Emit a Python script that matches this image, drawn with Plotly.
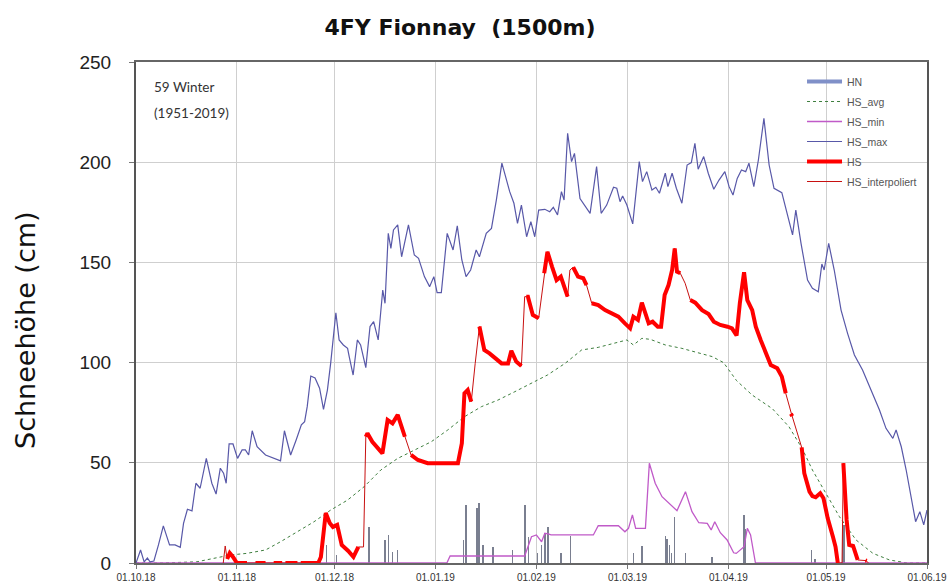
import pandas as pd
import plotly.graph_objects as go

START = pd.Timestamp("2018-10-01")

# ---- Snow depth data, winter 2018/19 (days counted from 01.10.2018) ----
# HS_max: maximum snow depth of the reference winters
max_days = [0, 1.4, 2.5, 3.5, 4.3, 5.5, 6.9, 8.4, 10.3, 12, 13.6, 14.6, 15.8, 17.2, 18.4, 19.7,
            21.6, 23.3, 24.6, 25.9, 26.9, 27.7, 28.6, 29.8, 31.2, 32.6, 33.6, 34.6, 35.7, 37.2,
            39.8, 41.8, 44.4, 45.6, 47.5, 49.2, 50.8, 51.8, 52.6, 53.7, 55, 56.4, 57.6, 58.8,
            59.8, 61.4, 62.4, 63.7, 65, 65.5, 66.7, 68, 69, 70.6, 71.9, 73, 74.4, 75.8, 76.5,
            77.5, 78.3, 79.1, 80.4, 81.6, 83.7, 85.5, 86.8, 88.6, 90.2, 91.5, 92.5, 93.8, 95.6,
            97.4, 98.7, 100.1, 101.4, 102.8, 104.5, 105.5, 107.6, 109.2, 110.7, 112.4, 114.8,
            116.1, 117.2, 118.4, 120, 121.3, 122.5, 123.7, 125.6, 127.1, 128.2, 129.5, 130.7,
            131.5, 132.6, 133.8, 134.7, 136.4, 137.9, 139.5, 141.5, 142.9, 144.6, 146.7, 147.7,
            148.7, 149.5, 150.8, 152.6, 154.6, 155.6, 156.9, 158.5, 159.7, 160.8, 162.6, 163.4,
            164.7, 166, 167.7, 169.3, 170.6, 171.7, 172.7, 174.4, 175.8, 177.5, 179.1, 180.9,
            182.2, 183.4, 184.7, 186, 187.3, 188.3, 189.8, 191.2, 192.9, 194.5, 196, 198.4,
            200.1, 201.7, 202.7, 204.3, 206.3, 207.8, 209.6, 210.7, 211.4, 212.8, 214.5, 216.6,
            218.6, 220.7, 223.2, 225.8, 228.4, 230.4, 232.5, 233.5, 235.1, 236.6, 238.2, 239.5,
            240.8, 242, 243]
max_vals = [0, 6.5, 0.6, 2.5, 0.6, 1, 9, 18.5, 9, 9, 7.8, 19.8, 26.8, 26, 39.8, 37.3,
            52.2, 39.8, 34.4, 47.3, 44.8, 39.8, 59.4, 59.4, 52.2, 56.4, 56.4, 53.9, 66, 58,
            53.9, 52.7, 51, 66, 53.9, 61.4, 68.9, 70.5, 78, 93.3, 92.3, 87.2, 76.7, 86.3,
            99.6, 124.9, 111.3, 108.8, 107.1, 103, 93.8, 111.3, 108.8, 97.5, 118, 120.4, 111.3, 136.2, 129.6,
            164.5, 157, 166.2, 168.7, 152.8, 168.7, 153.7, 152, 142.9, 137.9, 142.9, 134.9, 134.9, 164.5,
            156.2, 168.2, 151.2, 142.9, 146.2, 156.2, 152.8, 164.5, 167, 181.1, 199.5, 185.3,
            179.5, 169.5, 178.6, 162.8, 170.3, 162.8, 176.1, 176.5, 175.3, 177.5, 173.7, 185.3,
            181.1, 214.4, 200.3, 204.4, 181.9, 178.6, 174.5, 197.8, 174.5, 178.6, 187.5, 187,
            180.3, 183.1, 178.6, 169.2, 200.3, 190.3, 195.3, 186.1, 187.5, 184.5, 194.5, 187.8,
            194.5, 187, 179.5, 198.6, 199.8, 209.4, 196.5, 202.8, 194.5, 186.5, 191.1, 195.3,
            187.8, 183.6, 191.9, 196.1, 195.3, 199.5, 187.8, 201.1, 221.9, 198.6, 187, 184.8,
            173.7, 163.7, 176.1, 159.5, 141.2, 137.1, 135.4, 149.2, 146.2, 159.5, 146.2, 126.2,
            114.6, 103.8, 96.3, 86.3, 76.3, 67.2, 62.2, 66.4, 58, 46.4, 31.4, 20.6,
            25.6, 19, 26.4]

# HS_avg: mean snow depth 1951-2019
avg_days = [0, 8, 18.7, 24, 29, 34, 39.8, 44.4, 49.6, 54.7, 59.8, 62.5, 65, 70.1, 75.2, 80.4,
            85.5, 90.7, 95.8, 100.9, 106.1, 111.2, 116.4, 121.5, 126.4, 131.8, 136.9, 142,
            147.2, 150.8, 152.8, 155.4, 158, 162.6, 167.7, 172.9, 177, 180.5, 184.5, 189.3,
            195.5, 200.6, 204.7, 207.8, 212, 216.1, 221.2, 226.4, 231.5, 237, 243]
avg_vals = [0, 0, 0.6, 2.3, 4, 4.8, 6.5, 10.6, 15.6, 20.6, 26.4, 28.9, 31.4, 38.1, 46.4, 52.2,
            56.4, 60.5, 66.4, 73, 78, 81.3, 85.5, 89.7, 93.8, 99.6, 106.3, 107.6,
            109.6, 111.3, 108.8, 112.1, 111.6, 108.8, 107.1, 104.6, 103, 100, 91, 83.8,
            77, 68, 57, 46.4, 34.8, 23.1, 11.5, 4.8, 1.5, 0, 0]

# HS_min: minimum snow depth of the reference winters
min_days = [0, 95.5, 96.5, 119.4, 121.5, 123, 124.6, 125.6, 126.6, 127.5, 140.5, 142, 148.2,
            150.2, 151.3, 152.5, 153.5, 156.5, 157.7, 159.5, 161.6, 163.7, 166.2, 168.8, 170.8,
            172.9, 175.5, 176.7, 177.8, 179.5, 181.6, 183.6, 184.4, 186.8, 187.8, 188.8, 190.3, 243]
min_vals = [0, 0, 3.5, 3.5, 13.1, 14, 10.6, 14.8, 14.5, 14, 14, 18.6, 18.6,
            15.6, 17.3, 24, 17.3, 17.3, 49.8, 39.8, 33.1, 29.8, 26.1, 35.6, 25.6,
            20.1, 19.8, 16.5, 20.6, 15.1, 11.5, 5.1, 4.8, 8.1, 17.3, 14, 0, 0]

# HS: measured snow depth 2018/19, None marks days without measurement
hs_days = [28, 28.8, 29.8, 31, 34.1, None,
           36.7, 39.8, None,
           42.3, 44.9, None,
           45.9, 49.6, None,
           50.6, 56, 56.8, 58.3, 59.5, 60.5, 61.8, 63.2, 65.2, 66.8, 68.3, None,
           70.6, 71.1, 72.6, 74.2, 75.7, 77.3, 78.8, 80.4, 81.4, 82.6, None,
           84.5, 86.6, 89.6, 93.7, 98.9, 100.1, 100.9, 101.9, 103, None,
           105.5, 107, 108.6, 110.7, 112.3, 114.3, 115.3, 116.8, 118.4, None,
           119.9, 120.4, 121.9, 123.7, None,
           125.4, 126.4, 127.8, 129.2, 130.5, 131.8, 132.6, None,
           134.3, 135.8, 137.4, 138.4, None,
           140, 142, 144.1, 146.1, 148.2, 150.2, 151.8, 152.8, 154.2, 155.4, 156.4, 157.5,
           158.7, 160.3, 161.3, 162.4, 163.6, 164.7, 165.5, 166.2, 167.2, None,
           170.3, 171.8, 173.9, 175.9, 177.5, 179.5, 181.7, 183.1, 184.5, 185.5, 186.8, 187.8,
           189.3, 190.4, 191.9, 193.4, 195, 197, 198.4, 199.6, None,
           201.2, 201.6, None,
           204.5, 205.3, 206.9, 207.8, 208.8, 210.2, 211.2, 212.5, 214.1, 214.9, 215.6, None,
           217.3, 218.3, 219.1, 220.3, 221.7, None,
           224.1, 224.5]
hs_vals = [2, 5, 3, 0, 0, None,
           0, 0, None,
           0, 0, None,
           0, 0, None,
           0, 0, 3, 25, 20, 18, 19, 9, 6, 3, 8, None,
           63, 64.7, 60.5, 57.2, 54.7, 71.4, 69.7, 73.9, 68.9, 63, None,
           53.9, 51.4, 49.8, 49.8, 49.8, 59.7, 84.7, 86.3, 80.5, None,
           118, 106.3, 104.6, 102.1, 99.6, 99.6, 105.9, 100.5, 98.3, None,
           132.9, 132.9, 123.8, 122.1, None,
           144.6, 155.3, 147.9, 141.2, 142.9, 136.2, 132.9, None,
           147.6, 142.9, 142.1, 138.7, None,
           129.6, 128.7, 126.2, 124.6, 122.9, 119.6, 117.1, 122.9, 121.3, 129.9, 124.6, 119.6,
           120.4, 117.9, 117.9, 133.7, 138.7, 146.2, 157, 145.4, 144.6, None,
           131.2, 129.9, 126.2, 124.2, 120.4, 118.8, 117.9, 117.1, 113.5, 129.6, 145.1, 131.2,
           126.2, 117.9, 111.3, 104.6, 98.8, 97.2, 93, 84.7, None,
           74.5, 73.3, None,
           57.7, 44.8, 35.6, 33.4, 32.8, 34.8, 32.3, 22.3, 13.1, 8.1, 0, None,
           49.8, 21.5, 9, 8.5, 1.5, None,
           1.3, 1.1]

# HS_interpoliert: continuous snow depth including interpolated days
hsi_days = [26.8, 27.4, 28, 28.8, 29.8, 31, 56, 56.8, 58.3, 59.5, 60.5, 61.8, 63.2, 65.2, 66.8,
            68.3, 69.9, 70.6, 71.1, 72.6, 74.2, 75.7, 77.3, 78.8, 80.4, 81.4, 82.6, 84.5, 86.6,
            89.6, 93.7, 98.9, 100.1, 100.9, 101.9, 103, 104.2, 105.5, 107, 108.6, 110.7, 112.3,
            114.3, 115.3, 116.8, 118.4, 119.4, 120.4, 121.9, 123.7, 125.4, 126.4, 127.8, 129.2,
            130.5, 131.8, 132.6, 133.3, 134.3, 135.8, 137.4, 138.4, 140, 142, 144.1, 146.1,
            148.2, 150.2, 151.8, 152.8, 154.2, 155.4, 156.4, 157.5, 158.7, 160.3, 161.3, 162.4,
            163.6, 164.7, 165.5, 166.2, 167.2, 168.7, 170.3, 171.8, 173.9, 175.9, 177.5, 179.5,
            181.7, 183.1, 184.5, 185.5, 186.8, 187.8, 189.3, 190.4, 191.9, 193.4, 195, 197,
            198.4, 199.6, 201.4, 204.5, 205.3, 206.9, 207.8, 208.8, 210.2, 211.2, 212.5, 214.1,
            214.9, 215.6, 216.9, 217.3, 218.3, 219.1, 220.3, 221.7, 224.3, 225]
hsi_vals = [0, 8.5, 2, 5, 3, 0, 0, 3, 25, 20, 18, 19, 9, 6, 3,
            8, 8, 63, 64.7, 60.5, 57.2, 54.7, 71.4, 69.7, 73.9, 68.9, 63, 53.9, 51.4,
            49.8, 49.8, 49.8, 59.7, 84.7, 86.3, 80.5, 99.6, 118, 106.3, 104.6, 102.1, 99.6,
            99.6, 105.9, 100.5, 98.3, 132.9, 132.9, 123.8, 122.1, 144.6, 155.3, 147.9, 141.2,
            142.9, 136.2, 132.9, 146.2, 147.6, 142.9, 142.1, 138.7, 129.6, 128.7, 126.2, 124.6,
            122.9, 119.6, 117.1, 122.9, 121.3, 129.9, 124.6, 119.6, 120.4, 117.9, 117.9, 133.7,
            138.7, 146.2, 157, 145.4, 144.6, 139.6, 131.2, 129.9, 126.2, 124.2, 120.4, 118.8,
            117.9, 117.1, 113.5, 129.6, 145.1, 131.2, 126.2, 117.9, 111.3, 104.6, 98.8, 97.2,
            93, 84.7, 74.2, 57.7, 44.8, 35.6, 33.4, 32.8, 34.8, 32.3, 22.3, 13.1,
            8.1, 0, 0, 49.8, 21.5, 9, 8.5, 1.5, 1.2, 0]

# HN: daily new snow
hn_days = [58.6, 61.6, 71.6, 76.5, 77.5, 78.8, 80.4, 100.6, 101.4, 104.8, 105.4, 106.6, 109.7,
           115.6, 119.5, 120.5, 123.4, 124.6, 125.6, 126.6, 130.6, 133.5, 152.9, 155.4, 162.6,
           163.1, 163.9, 164.5, 165.5, 168.8, 177, 186.8, 187.3, 207.6, 208.6, 217, 217.5]
hn_vals = [9, 4, 18, 11.5, 14, 5.6, 6.5, 11.5, 29, 27.3, 29.8, 9, 8,
           6.5, 29, 13, 5, 9, 15, 18, 5, 13.5, 5, 8.5, 13.5,
           12, 9, 5, 23, 5, 3, 24, 17, 6.5, 2, 20, 19]


def to_dates(days):
    return [None if d is None else START + pd.Timedelta(days=d) for d in days]


fig = go.Figure()

# new snow as thin bars
fig.add_trace(go.Bar(
    x=to_dates(hn_days), y=hn_vals, width=0.12 * 86400000,
    marker=dict(color="#7a7f90", line=dict(width=0)),
    showlegend=False, hoverinfo="skip"))
# legend entry for the new snow bars
fig.add_trace(go.Scatter(x=[None], y=[None], mode="lines", name="HN",
                         line=dict(color="#8090c8", width=4), legendrank=1))

fig.add_trace(go.Scatter(x=to_dates(avg_days), y=avg_vals, mode="lines", name="HS_avg",
                         line=dict(color="#3f7f3f", width=1, dash="dot"), legendrank=2))
fig.add_trace(go.Scatter(x=to_dates(min_days), y=min_vals, mode="lines", name="HS_min",
                         line=dict(color="#c05ac8", width=1.3), legendrank=3))
fig.add_trace(go.Scatter(x=to_dates(max_days), y=max_vals, mode="lines", name="HS_max",
                         line=dict(color="#5858a8", width=1.2), legendrank=4))
fig.add_trace(go.Scatter(x=to_dates(hsi_days), y=hsi_vals, mode="lines", name="HS_interpoliert",
                         line=dict(color="#c81010", width=1), legendrank=6))
fig.add_trace(go.Scatter(x=to_dates(hs_days), y=hs_vals, mode="lines", name="HS",
                         line=dict(color="#ff0000", width=4), connectgaps=False, legendrank=5))

for i, tr in enumerate(fig.data):
    tr.legendgroup = f"g{i}"

fig.update_layout(
    width=950, height=584,
    margin=dict(l=136, r=23, t=62, b=21, autoexpand=False),
    paper_bgcolor="white", plot_bgcolor="white",
    font=dict(family="Arial, Liberation Sans, sans-serif", color="#222"),
    title=dict(text="<b>4FY Fionnay\u00a0\u00a0(1500m)</b>", x=460 / 950, xanchor="center",
               y=1 - 27 / 584, yanchor="middle",
               font=dict(size=22, color="#111", family="DejaVu Sans")),
    bargap=0,
    showlegend=True,
    legend=dict(x=0.842, y=0.99, xanchor="left", yanchor="top",
                bgcolor="rgba(0,0,0,0)", borderwidth=0,
                font=dict(size=10.5, color="#555"),
                traceorder="grouped", tracegroupgap=1, itemwidth=35),
    xaxis=dict(
        type="date", range=[START, pd.Timestamp("2019-06-01")], automargin=False,
        tick0=START, dtick="M1", tickformat="%d.%m.%y",
        tickfont=dict(size=10, color="#333"),
        showgrid=True, gridcolor="#cfcfcf", gridwidth=1,
        ticks="outside", ticklen=4, tickcolor="#777",
        showline=True, linecolor="#666", linewidth=1.5, mirror=True,
        zeroline=False),
    yaxis=dict(
        range=[0, 250], tick0=0, dtick=50, automargin=False,
        tickfont=dict(size=19, color="#222"),
        showgrid=True, gridcolor="#cfcfcf", gridwidth=1,
        ticks="outside", ticklen=5, tickcolor="#777",
        ticklabelstandoff=14,
        showline=True, linecolor="#555", linewidth=2, mirror=True,
        zeroline=False),
    annotations=[
        dict(text="Schneehöhe (cm)", xref="paper", yref="paper",
             x=(26 - 136) / 791, y=(563 - 330) / 501, xanchor="center", yanchor="middle",
             textangle=-90, showarrow=False,
             font=dict(size=27, color="#111", family="DejaVu Sans")),
        dict(text="59 Winter", xref="paper", yref="paper",
             x=(152 - 136) / 791, y=(563 - 87) / 501, xanchor="left", yanchor="middle",
             showarrow=False, font=dict(size=13.5, color="#333", family="Lato")),
        dict(text="(1951-2019)", xref="paper", yref="paper",
             x=(152 - 136) / 791, y=(563 - 113) / 501, xanchor="left", yanchor="middle",
             showarrow=False, font=dict(size=13.5, color="#333", family="Lato")),
    ],
)

fig.write_html("out.html")
